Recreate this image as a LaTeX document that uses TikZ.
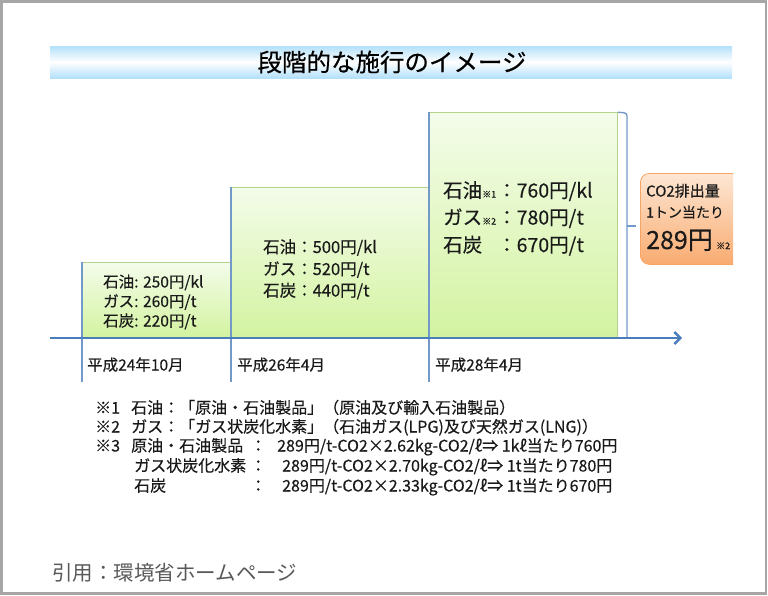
\documentclass[tikz,border=0pt]{standalone}
\usepackage{fontspec}
\setmainfont[FakeBold=0.35]{Noto Sans CJK JP}
\newfontfamily\citefont{Noto Sans CJK JP}
\usetikzlibrary{arrows.meta}
\definecolor{axisblue}{HTML}{4A7EBB}
\definecolor{lineblue}{HTML}{7399C9}
\definecolor{gtop}{HTML}{F4FCEA}
\definecolor{gbot}{HTML}{D3F3A0}
\definecolor{gborder}{HTML}{B2D388}
\definecolor{otop}{HTML}{FDE7D4}
\definecolor{obot}{HTML}{F9AB70}
\definecolor{oborder}{HTML}{F7A565}
\definecolor{titleblue}{HTML}{B3E0FA}
\definecolor{txt}{HTML}{1A1A1A}
\definecolor{citegray}{HTML}{595959}
\definecolor{framegray}{HTML}{A6A6A6}
\newcommand{\fs}[1]{\fontsize{#1}{#1}\selectfont}
\begin{document}
\begin{tikzpicture}[x=1pt,y=-1pt,
  stepbox/.style={draw=gborder, line width=0.8, top color=gtop, bottom color=gbot, inner sep=0, anchor=south west},
  orangebox/.style={draw=oborder, line width=0.8, rounded corners=9, top color=otop, bottom color=obot, inner sep=0, anchor=north west},
  vline/.style={draw=lineblue, line width=1.4},
  axisline/.style={draw=axisblue, line width=2.4, -{Straight Barb[length=6pt,width=12pt,line width=2.4pt]}},
  lbl/.style={anchor=base west, inner sep=0, text=txt},
  note/.style={anchor=base west, inner sep=0, text=txt, font=\fs{16}}
]
\useasboundingbox (0,0) rectangle (768,595);
\fill[white] (0,0) rectangle (768,595);
\draw[framegray, line width=2.5] (1.25,1.25) rectangle (766,593.5);

% title band
\shade[top color=titleblue, bottom color=titleblue, middle color=white] (50,46) rectangle (732,78);
\node[inner sep=0, text=black, font=\fs{24.5}] (title) at (392,62) {段階的な施行のイメージ};

% step boxes
\node[stepbox, minimum width=149, minimum height=75] (b1) at (82,338) {};
\node[stepbox, minimum width=198, minimum height=150] (b2) at (231,338) {};
\node[stepbox, minimum width=188, minimum height=225] (b3) at (429,338) {};

% vertical lines
\coordinate (e1) at (82,382);
\coordinate (e2) at (231,382);
\coordinate (e3) at (429,382);
\draw[vline] (b1.north west) -- (e1);
\draw[vline] (b2.north west) -- (e2);
\draw[vline] (b3.north west) -- (e3);

% bracket
\coordinate (br1) at (627,113);
\coordinate (br2) at (627,338);
\coordinate (brm) at (627,226);
\coordinate (brt) at (636,226);
\draw[vline, rounded corners=3] (b3.north east) -- (br1) -- (br2);
\draw[vline] (brm) -- (brt);

% axis
\coordinate (axL) at (50,338);
\coordinate (axR) at (682,338);
\draw[axisline] (axL) -- (axR);

% box 1 text
\node[lbl, font=\fs{15.5}] (t11) at (103,287.5) {石油: 250円/kl};
\node[lbl, font=\fs{15.5}] (t12) at (103,307) {ガス: 260円/t};
\node[lbl, font=\fs{15.5}] (t13) at (103,326.5) {石炭: 220円/t};

% box 2 text
\node[lbl, font=\fs{16.5}] (t21) at (263,253) {石油：500円/kl};
\node[lbl, font=\fs{16.5}] (t22) at (263,275) {ガス：520円/t};
\node[lbl, font=\fs{16.5}] (t23) at (263,296.5) {石炭：440円/t};

% box 3 text
\node[lbl, font=\fs{19.5}] (t31) at (443,197.5) {石油{\fs{9}※1}};
\node[lbl, font=\fs{19.5}] (t32) at (443,224.5) {ガス{\fs{9}※2}};
\node[lbl, font=\fs{19.5}] (t33) at (443,252) {石炭};
\node[lbl, font=\fs{19.5}] (c31) at (497,197.5) {：760円/kl};
\node[lbl, font=\fs{19.5}] (c32) at (497,224.5) {：780円/t};
\node[lbl, font=\fs{19.5}] (c33) at (497,252) {：670円/t};

% dates
\node[lbl, font=\fs{15.5}] (d1) at (87,370.5) {平成24年10月};
\node[lbl, font=\fs{15.5}] (d2) at (237,370.5) {平成26年4月};
\node[lbl, font=\fs{15.5}] (d3) at (435,370.5) {平成28年4月};

% orange box
\begin{scope}
\clip (0,0) rectangle (733,595);
\node[orangebox, minimum width=105, minimum height=91] (o) at (640,173) {};
\node[lbl, font=\fs{15}] (o1) at (646,196.5) {CO2排出量};
\node[lbl, font=\fs{14}] (o2) at (646,217.5) {1トン当たり};
\node[lbl, font=\fs{25}] (o3) at (646,249) {289円};
\node[lbl, font=\fs{9}] (o4) at (716,249) {※2};
\end{scope}

% notes
\node[note] (n1a) at (95,413.5) {※1};
\node[note] (n1b) at (131,413.5) {石油：「原油・石油製品」（原油及び輸入石油製品）};
\node[note] (n2a) at (95,432.5) {※2};
\node[note] (n2b) at (131,432.5) {ガス：「ガス状炭化水素」（石油ガス(LPG)及び天然ガス(LNG)）};
\node[note] (n3a) at (95,451.5) {※3};
\node[note] (n3b) at (131,451.5) {原油・石油製品};
\node[note] (n3c) at (250,451.5) {：};
\node[note] (n3d) at (277,451.5) {289円/t-CO2×2.62kg-CO2/ℓ⇒ 1kℓ当たり760円};
\node[note] (n4b) at (134,471.5) {ガス状炭化水素};
\node[note] (n4c) at (250,471.5) {：};
\node[note] (n4d) at (282,471.5) {289円/t-CO2×2.70kg-CO2/ℓ⇒ 1t当たり780円};
\node[note] (n5b) at (134,491.5) {石炭};
\node[note] (n5c) at (250,491.5) {：};
\node[note] (n5d) at (282,491.5) {289円/t-CO2×2.33kg-CO2/ℓ⇒ 1t当たり670円};

% citation
\node[anchor=base west, inner sep=0, text=citegray, font=\citefont\fs{20.5}] (cite) at (52,580) {引用：環境省ホームページ};
\end{tikzpicture}
\end{document}
